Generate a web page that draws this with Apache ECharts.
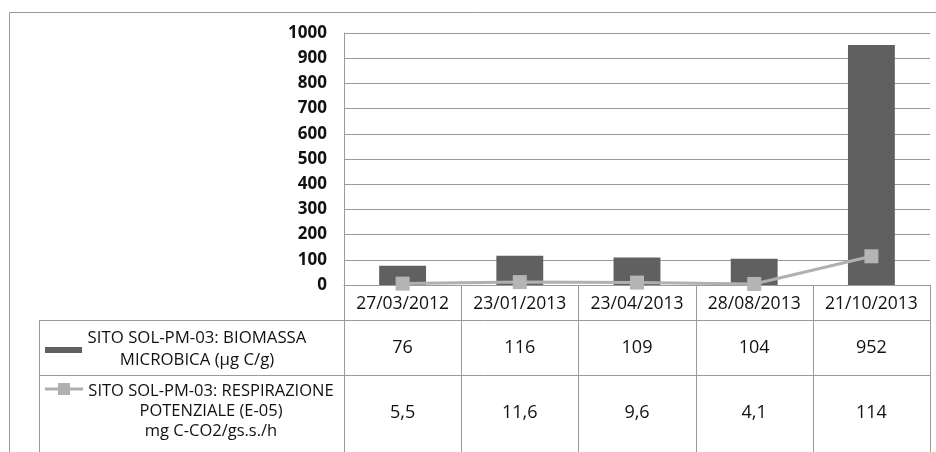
<!DOCTYPE html>
<html lang="it">
<head>
<meta charset="UTF-8">
<title>SITO SOL-PM-03</title>
<script src="https://cdn.jsdelivr.net/npm/echarts@6.0.0/dist/echarts.min.js"></script>
<style>
  html, body { margin: 0; padding: 0; background: #fff; }
  #chart { width: 936px; height: 452px; }
</style>
</head>
<body>
<div id="chart"></div>
<script>
// dati
const dates = ['27/03/2012', '23/01/2013', '23/04/2013', '28/08/2013', '21/10/2013'];
const biomassa = [76, 116, 109, 104, 952];
const respirazione = [5.5, 11.6, 9.6, 4.1, 114];
const nomeBiomassa = 'SITO SOL-PM-03: BIOMASSA\nMICROBICA (µg C/g)';
const nomeRespirazione = 'SITO SOL-PM-03: RESPIRAZIONE\nPOTENZIALE (E-05)\nmg C-CO2/gs.s./h';

const FONT = '"Open Sans", "Liberation Sans", sans-serif';
const gridL = 344, gridR = 930, gridT = 33, axisY = 285;
const colW = (gridR - gridL) / dates.length;
const tableL = 39, row1T = 320, row2T = 375, tableB = 470;

const fmt = v => String(v).replace('.', ',');

const chart = echarts.init(document.getElementById('chart'));

// tabella dati sotto il grafico (linee + testi)
const g = [];
const lineStyle = { stroke: '#9a9a9a', lineWidth: 1 };
g.push({ type: 'rect', shape: { x: 9.5, y: 12.5, width: 940, height: 460 }, style: { fill: null, stroke: '#9a9a9a', lineWidth: 1 }, silent: true });
[row1T, row2T].forEach(y => {
  g.push({ type: 'line', shape: { x1: tableL, y1: y + 0.5, x2: gridR, y2: y + 0.5 }, style: lineStyle, silent: true });
});
g.push({ type: 'line', shape: { x1: tableL + 0.5, y1: row1T, x2: tableL + 0.5, y2: tableB }, style: lineStyle, silent: true });
for (let i = 0; i <= dates.length; i++) {
  const x = Math.round(gridL + i * colW) + 0.5;
  g.push({ type: 'line', shape: { x1: x, y1: axisY, x2: x, y2: tableB }, style: lineStyle, silent: true });
}
dates.forEach((d, i) => {
  const cx = gridL + (i + 0.5) * colW;
  g.push({ type: 'text', style: { text: fmt(biomassa[i]), x: cx, y: 348, align: 'center', verticalAlign: 'middle', fontSize: 18, fontFamily: FONT, fill: '#111' }, silent: true });
  g.push({ type: 'text', style: { text: fmt(respirazione[i]), x: cx, y: 413, align: 'center', verticalAlign: 'middle', fontSize: 18, fontFamily: FONT, fill: '#111' }, silent: true });
});
// chiavi della legenda
g.push({ type: 'rect', shape: { x: 45, y: 347, width: 37, height: 6 }, style: { fill: '#606060' }, silent: true });
g.push({ type: 'line', shape: { x1: 45, y1: 389, x2: 83, y2: 389 }, style: { stroke: '#b0b0b0', lineWidth: 3 }, silent: true });
g.push({ type: 'rect', shape: { x: 58, y: 383, width: 12, height: 12 }, style: { fill: '#b0b0b0' }, silent: true });
g.push({ type: 'text', style: { text: nomeBiomassa, x: 197, y: 349, align: 'center', verticalAlign: 'middle', lineHeight: 22, fontSize: 16.8, fontFamily: FONT, fill: '#111' }, silent: true });
g.push({ type: 'text', style: { text: nomeRespirazione, x: 211, y: 411, align: 'center', verticalAlign: 'middle', lineHeight: 20, fontSize: 16.5, fontFamily: FONT, fill: '#111' }, silent: true });

const option = {
  animation: false,
  backgroundColor: '#fff',
  grid: { left: gridL, right: 936 - gridR, top: gridT, bottom: 452 - axisY },
  xAxis: {
    type: 'category',
    data: dates,
    boundaryGap: true,
    axisLine: { show: true, lineStyle: { color: '#9a9a9a', width: 1 } },
    axisTick: { show: false },
    axisLabel: { interval: 0, color: '#111', fontSize: 17.5, fontFamily: FONT, margin: 10 }
  },
  yAxis: {
    type: 'value',
    min: 0, max: 1000, interval: 100,
    axisLine: { show: true, lineStyle: { color: '#9a9a9a', width: 1 } },
    axisTick: { show: false },
    splitLine: { lineStyle: { color: '#9a9a9a', width: 1 } },
    axisLabel: { formatter: v => String(v), color: '#111', fontSize: 17, fontWeight: 'bold', fontFamily: FONT, margin: 17 }
  },
  series: [
    {
      name: nomeBiomassa,
      type: 'bar',
      data: biomassa,
      barWidth: '40%',
      itemStyle: { color: '#606060' }
    },
    {
      name: nomeRespirazione,
      type: 'line',
      data: respirazione,
      symbol: 'rect',
      symbolSize: 14,
      itemStyle: { color: '#b4b4b4' },
      lineStyle: { color: '#b0b0b0', width: 3 }
    }
  ],
  graphic: g
};
chart.setOption(option);
</script>
</body>
</html>
